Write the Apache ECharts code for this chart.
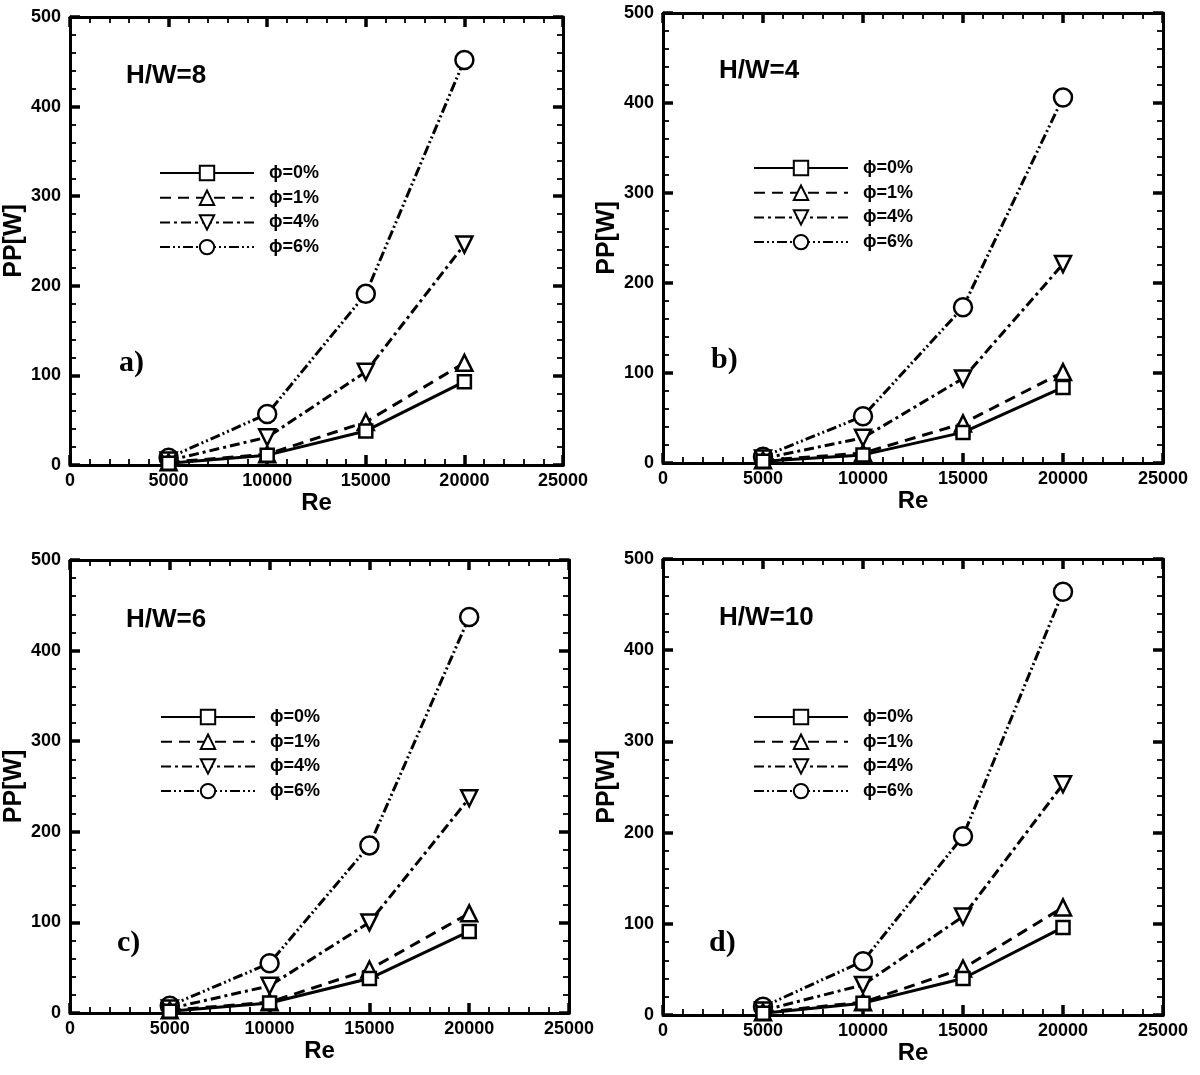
<!DOCTYPE html>
<html>
<head>
<meta charset="utf-8">
<script src="https://cdn.jsdelivr.net/npm/echarts@6/dist/echarts.min.js"></script>
<style>
  html, body { margin: 0; padding: 0; background: #fff; }
  #main { width: 1200px; height: 1075px; }
</style>
</head>
<body>
<div id="main"></div>
<script>
// Re values on the x axis
const reValues = [5000, 10000, 15000, 20000];
const phiNames = ["\u03d5=0%", "\u03d5=1%", "\u03d5=4%", "\u03d5=6%"];

// PP[W], H/W=8  (panel a)
const hw8Phi0 = [2, 11, 38, 93];
const hw8Phi1 = [3, 12, 48, 114];
const hw8Phi4 = [5, 31, 104, 246];
const hw8Phi6 = [8, 57, 191, 452];

// PP[W], H/W=4  (panel b)
const hw4Phi0 = [2, 9, 34, 84];
const hw4Phi1 = [3, 11, 44, 101];
const hw4Phi4 = [5, 28, 94, 221];
const hw4Phi6 = [7, 52, 173, 406];

// PP[W], H/W=6  (panel c)
const hw6Phi0 = [2, 11, 38, 90];
const hw6Phi1 = [3, 12, 48, 110];
const hw6Phi4 = [5, 30, 100, 237];
const hw6Phi6 = [8, 55, 185, 437];

// PP[W], H/W=10  (panel d)
const hw10Phi0 = [2, 13, 40, 96];
const hw10Phi1 = [3, 14, 51, 118];
const hw10Phi4 = [5, 33, 108, 253];
const hw10Phi6 = [9, 59, 196, 464];

const panels = [
  { title: "H/W=8", tag: "a)", data: [hw8Phi0, hw8Phi1, hw8Phi4, hw8Phi6],
    grid: { left: 70, top: 17, width: 493, height: 448 },
    titlePos: [126, 63], tagPos: [119, 348], legendPos: [159, 164] },
  { title: "H/W=4", tag: "b)", data: [hw4Phi0, hw4Phi1, hw4Phi4, hw4Phi6],
    grid: { left: 663, top: 13, width: 500, height: 450 },
    titlePos: [719, 58], tagPos: [711, 345], legendPos: [753, 159] },
  { title: "H/W=6", tag: "c)", data: [hw6Phi0, hw6Phi1, hw6Phi4, hw6Phi6],
    grid: { left: 70, top: 560, width: 499, height: 453 },
    titlePos: [126, 607], tagPos: [117, 928], legendPos: [160, 708] },
  { title: "H/W=10", tag: "d)", data: [hw10Phi0, hw10Phi1, hw10Phi4, hw10Phi6],
    grid: { left: 663, top: 559, width: 500, height: 456 },
    titlePos: [719, 605], tagPos: [709, 928], legendPos: [753, 708] }
];

const fontSans = "'Liberation Sans', Arial, Helvetica, sans-serif";
const fontSerif = "'Liberation Serif', 'Times New Roman', serif";

// line / symbol style for each phi
const styles = [
  { dash: "solid", symbol: "rect", size: 13, rotate: 0 },
  { dash: [11, 7], symbol: "triangle", size: 16, rotate: 0 },
  { dash: [10, 4, 3, 4], symbol: "triangle", size: 16, rotate: 180 },
  { dash: [10, 3, 2, 3, 2, 3], symbol: "circle", size: 18, rotate: 0 }
];

var chart = echarts.init(document.getElementById("main"));

var grids = [], xAxes = [], yAxes = [], series = [], legends = [], titles = [];

function tickCfg() {
  return {
    axisLine: { show: true, onZero: false, lineStyle: { color: "#000", width: 3 } },
    axisTick: { show: true, inside: true, length: 10, lineStyle: { color: "#000", width: 3.5 } },
    minorTick: { show: true, splitNumber: 5, length: 6, lineStyle: { color: "#000", width: 1.8 } },
    splitLine: { show: false }
  };
}

function plain(v) { return String(v); }

panels.forEach(function (p, i) {
  grids.push(Object.assign({ containLabel: false }, p.grid));

  // bottom x axis
  xAxes.push(Object.assign({
    type: "value", gridIndex: i, position: "bottom", min: 0, max: 25000, interval: 5000,
    name: "Re", nameLocation: "middle", nameGap: 20,
    nameTextStyle: { fontFamily: fontSans, fontWeight: "bold", fontSize: 24, color: "#000" },
    axisLabel: { margin: 7, formatter: plain, fontFamily: fontSans, fontWeight: "bold", fontSize: 18, color: "#000" }
  }, tickCfg()));
  // top mirror
  xAxes.push(Object.assign({
    type: "value", gridIndex: i, position: "top", min: 0, max: 25000, interval: 5000,
    axisLabel: { show: false }
  }, tickCfg()));

  // left y axis
  yAxes.push(Object.assign({
    type: "value", gridIndex: i, position: "left", min: 0, max: 500, interval: 100,
    name: "PP[W]", nameLocation: "middle", nameGap: 41,
    nameTextStyle: { fontFamily: fontSans, fontWeight: "bold", fontSize: 25, color: "#000" },
    axisLabel: { margin: 9, formatter: plain, fontFamily: fontSans, fontWeight: "bold", fontSize: 18, color: "#000" }
  }, tickCfg()));
  // right mirror
  yAxes.push(Object.assign({
    type: "value", gridIndex: i, position: "right", min: 0, max: 500, interval: 100,
    axisLabel: { show: false }
  }, tickCfg()));

  p.data.forEach(function (vals, k) {
    var st = styles[k];
    series.push({
      name: phiNames[k],
      type: "line",
      xAxisIndex: 2 * i,
      yAxisIndex: 2 * i,
      data: reValues.map(function (re, j) { return [re, vals[j]]; }),
      symbol: st.symbol,
      symbolSize: st.size,
      symbolRotate: st.rotate,
      showAllSymbol: true,
      lineStyle: { color: "#000", width: 3, type: st.dash },
      itemStyle: { color: "#fff", borderColor: "#000", borderWidth: 2.5 },
      z: 10 - k
    });
  });

  legends.push({
    orient: "vertical",
    left: p.legendPos[0],
    top: p.legendPos[1],
    padding: 0,
    itemWidth: 94,
    itemHeight: 18,
    itemGap: 6.7,
    data: phiNames,
    selectedMode: false,
    textStyle: { fontFamily: fontSans, fontWeight: "bold", fontSize: 18, color: "#000", padding: [0, 0, 0, 10] }
  });

  titles.push({
    text: p.title, left: p.titlePos[0], top: p.titlePos[1], padding: 0,
    textStyle: { fontFamily: fontSans, fontWeight: "bold", fontSize: 26, color: "#000" }
  });
  titles.push({
    text: p.tag, left: p.tagPos[0], top: p.tagPos[1], padding: 0,
    textStyle: { fontFamily: fontSerif, fontWeight: "bold", fontSize: 30, color: "#000" }
  });
});

var option = {
  animation: false,
  backgroundColor: "#fff",
  title: titles,
  legend: legends,
  grid: grids,
  xAxis: xAxes,
  yAxis: yAxes,
  series: series
};

option && chart.setOption(option);
</script>
</body>
</html>
